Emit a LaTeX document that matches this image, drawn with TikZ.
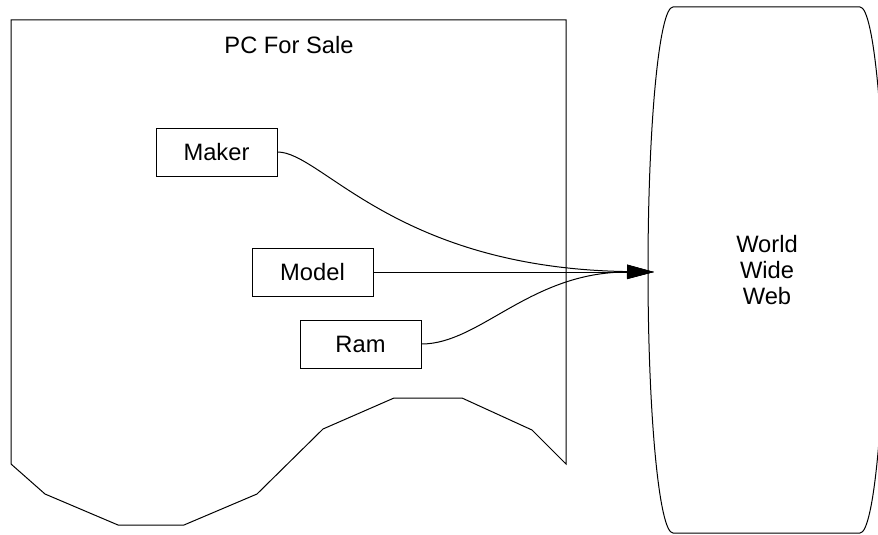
\documentclass[tikz,border=0pt]{standalone}
\usepackage{fontspec}
\setmainfont{Liberation Sans}
\usetikzlibrary{arrows.meta}

\begin{document}
\begin{tikzpicture}[x=1pt,y=-1pt,line width=1pt,
	every node/.style={font=\fontsize{23.7}{26}\selectfont},
	field/.style={draw,minimum width=121pt,minimum height=48pt,inner sep=0pt},
	link/.style={-{Triangle[length=27pt,width=14pt]}}]

  	\useasboundingbox (0,0) rectangle (878,535);
  	\clip (0,0) rectangle (878,535);

  	\draw (11,20) -- (566,20) -- (566,464) -- (532,430) -- (462,398) -- (394,398) -- (323,429) -- (257,494) -- (184,525) -- (118,525) -- (45,494) -- (11,464) -- cycle;
  	\node (pc) at (289,45) {PC For Sale};

  	\draw (673,7) -- (860,7) .. controls (873.8,7) and (885,124.7) .. (885,270) .. controls (885,415.3) and (873.8,533) .. (860,533) -- (673,533) .. controls (659.2,533) and (648,415.3) .. (648,270) .. controls (648,124.7) and (659.2,7) .. cycle;
  	\node[align=center] (www) at (767,270) {World\\Wide\\Web};

  	\node[field] (maker) at (216.5,152) {Maker};
  	\node[field] (model) at (312.5,272) {Model};
  	\node[field] (ram) at (360.5,344) {Ram};
  	\coordinate (tip) at (654,272);

  	\draw[link] (maker.east) .. controls (322,152) and (395,268) .. (tip);
  	\draw[link] (model) -- (tip);
  	\draw[link] (ram.east) .. controls (480,344) and (530,272) .. (tip);

  \end{tikzpicture}
\end{document}
